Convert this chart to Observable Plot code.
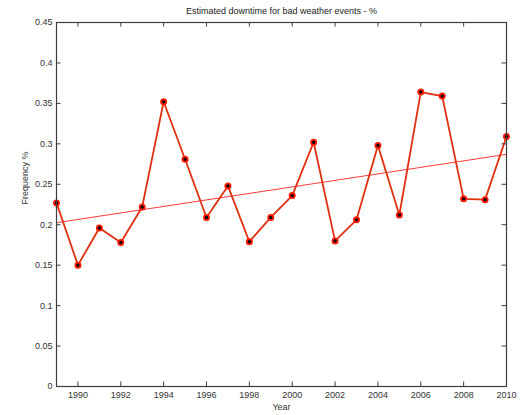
<!DOCTYPE html>
<html>
<head>
<meta charset="utf-8">
<script src="https://cdn.jsdelivr.net/npm/d3@7"></script>
<script src="https://cdn.jsdelivr.net/npm/@observablehq/plot@0.6"></script>
<style>
  html, body { margin: 0; padding: 0; background: #fff; }
  svg { display: block; }
</style>
</head>
<body>
<div id="chart"></div>
<script>
const years = [1989,1990,1991,1992,1993,1994,1995,1996,1997,1998,1999,2000,2001,2002,2003,2004,2005,2006,2007,2008,2009,2010];
const values = [0.227,0.150,0.196,0.178,0.222,0.352,0.281,0.209,0.248,0.179,0.209,0.236,0.302,0.180,0.206,0.298,0.212,0.364,0.359,0.232,0.231,0.309];
const trendYears = [1989, 2010];
const trendValues = [0.2025, 0.287];
const xTicks = [1990,1992,1994,1996,1998,2000,2002,2004,2006,2008,2010];
const yTicks = [0,0.05,0.1,0.15,0.2,0.25,0.3,0.35,0.4,0.45];
const titleText = "Estimated downtime for bad weather events - %";
const xLabel = "Year";
const yLabel = "Frequency %";

const data = years.map((y, i) => ({year: y, value: values[i]}));
const trend = trendYears.map((y, i) => ({year: y, value: trendValues[i]}));

const W = 524, H = 415;
const mL = 56, mR = 18, mT = 22, mB = 29;
const fw = W - mL - mR, fh = H - mT - mB;
const tickLen = 4.5;
const axisColor = "#3c3c3c";

const chart = Plot.plot({
  width: W,
  height: H,
  marginLeft: mL,
  marginRight: mR,
  marginTop: mT,
  marginBottom: mB,
  style: {fontFamily: "'Liberation Sans', Arial, sans-serif", fontSize: "9px", color: "#333", background: "#fff"},
  x: {domain: [1989, 2010]},
  y: {domain: [0, 0.45]},
  marks: [
    Plot.line(trend, {x: "year", y: "value", stroke: "#ff3b3b", strokeWidth: 1}),
    Plot.line(data, {x: "year", y: "value", stroke: "#e0300e", strokeWidth: 1.8}),
    Plot.dot(data, {x: "year", y: "value", r: 2.6, fill: "#000", stroke: "#ff1a00", strokeWidth: 1.8}),
    // inward ticks on all four sides
    Plot.tickX(xTicks, {x: d => d, insetTop: fh - tickLen, stroke: axisColor}),
    Plot.tickX(xTicks, {x: d => d, insetBottom: fh - tickLen, stroke: axisColor}),
    Plot.tickY(yTicks, {y: d => d, insetRight: fw - tickLen, stroke: axisColor}),
    Plot.tickY(yTicks, {y: d => d, insetLeft: fw - tickLen, stroke: axisColor}),
    Plot.frame({stroke: axisColor, strokeWidth: 1.2}),
    Plot.axisX({ticks: xTicks, tickSize: 0, tickPadding: 5, tickFormat: d => String(d), label: null, fill: "#333"}),
    Plot.axisY({ticks: yTicks, tickSize: 0, tickPadding: 4, tickFormat: d => String(d), label: null, fill: "#333"}),
    Plot.text([titleText], {frameAnchor: "top", lineAnchor: "middle", dy: -11, fontSize: 9, fill: "#222"}),
    Plot.text([xLabel], {frameAnchor: "bottom", lineAnchor: "middle", dy: 20.5, fontSize: 9, fill: "#333"}),
    Plot.text([yLabel], {frameAnchor: "left", lineAnchor: "middle", dx: -31, rotate: -90, fontSize: 9, fill: "#333"})
  ]
});
document.getElementById("chart").appendChild(chart);
</script>
</body>
</html>
